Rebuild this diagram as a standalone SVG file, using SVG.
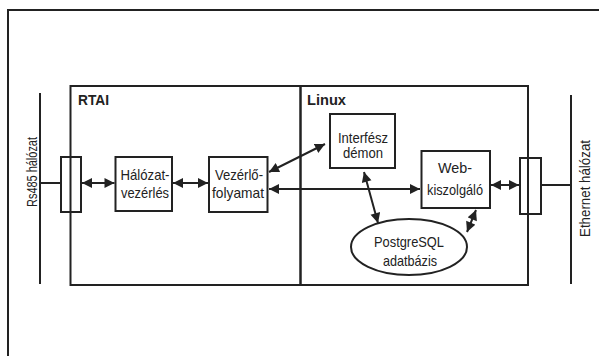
<svg xmlns="http://www.w3.org/2000/svg" width="599" height="356" viewBox="0 0 599 356">
<style>
.bx{fill:#fff;stroke:#222;stroke-width:2}
.cr{fill:none;stroke:#222;stroke-width:2}
.ln{fill:none;stroke:#222;stroke-width:2}
.cn{fill:none;stroke:#222;stroke-width:2}
.t{font-family:"Liberation Sans",Arial,sans-serif;font-size:14.5px;fill:#222;text-anchor:middle}
.h{font-family:"Liberation Sans",Arial,sans-serif;font-size:14.5px;font-weight:bold;fill:#222}
</style>
<defs>
<marker id="ah" viewBox="0 0 10 10" refX="10" refY="5" markerWidth="5.5" markerHeight="5" markerUnits="strokeWidth" orient="auto-start-reverse">
<path d="M0,0 L10,5 L0,10 Z" fill="#222"/>
</marker>
</defs>
<rect width="599" height="356" fill="#fff"/>
<path class="ln" d="M8,356 V10 H599"/>
<g id="rtai"><rect class="cr" x="70.5" y="86" width="230" height="199"/><text class="h" x="78" y="105" textLength="31" lengthAdjust="spacingAndGlyphs">RTAI</text></g>
<g id="linux"><rect class="cr" x="300.5" y="86" width="227.5" height="199"/><text class="h" x="307" y="105" textLength="39" lengthAdjust="spacingAndGlyphs">Linux</text></g>
<g id="rs485"><line class="ln" x1="40" y1="93" x2="40" y2="284"/><line class="ln" x1="40" y1="183" x2="61" y2="183"/><text class="t" transform="translate(36.5,172) rotate(-90)" textLength="70" lengthAdjust="spacingAndGlyphs">Rs485 hálózat</text></g>
<g id="conn-left"><rect class="cr" x="61" y="157" width="20" height="55"/></g>
<g id="halozat"><rect class="bx" x="115.5" y="157" width="56.5" height="54"/><text class="t" x="145" y="180" textLength="49" lengthAdjust="spacingAndGlyphs">Hálózat-</text><text class="t" x="145" y="197.5" textLength="48" lengthAdjust="spacingAndGlyphs">vezérlés</text></g>
<g id="vezerlo"><rect class="bx" x="209" y="157" width="58.5" height="55"/><text class="t" x="239" y="180" textLength="48" lengthAdjust="spacingAndGlyphs">Vezérlő-</text><text class="t" x="238" y="198" textLength="52" lengthAdjust="spacingAndGlyphs">folyamat</text></g>
<g id="interfesz"><rect class="bx" x="330" y="114" width="65" height="54"/><text class="t" x="363" y="143" textLength="50" lengthAdjust="spacingAndGlyphs">Interfész</text><text class="t" x="363" y="158" textLength="40" lengthAdjust="spacingAndGlyphs">démon</text></g>
<g id="web"><rect class="bx" x="421.5" y="151" width="68.5" height="57"/><text class="t" x="455" y="173" textLength="34" lengthAdjust="spacingAndGlyphs">Web-</text><text class="t" x="455" y="195" textLength="56" lengthAdjust="spacingAndGlyphs">kiszolgáló</text></g>
<g id="postgres"><ellipse class="bx" cx="409" cy="247" rx="58" ry="28"/><text class="t" x="409" y="247" textLength="70" lengthAdjust="spacingAndGlyphs">PostgreSQL</text><text class="t" x="410" y="266" textLength="54" lengthAdjust="spacingAndGlyphs">adatbázis</text></g>
<g id="conn-right"><rect class="cr" x="520" y="158" width="21" height="56"/></g>
<g id="ethernet"><line class="ln" x1="571" y1="95" x2="571" y2="284"/><line class="ln" x1="541" y1="185" x2="571" y2="185"/><text class="t" transform="translate(590,188.5) rotate(-90)" textLength="97" lengthAdjust="spacingAndGlyphs">Ethernet hálózat</text></g>
<g id="connectors">
<line class="cn" x1="82" y1="183" x2="114.5" y2="183" marker-start="url(#ah)" marker-end="url(#ah)"/>
<line class="cn" x1="173" y1="183" x2="208" y2="183" marker-start="url(#ah)" marker-end="url(#ah)"/>
<line class="cn" x1="269" y1="172" x2="325" y2="144" marker-start="url(#ah)" marker-end="url(#ah)"/>
<line class="cn" x1="269" y1="189" x2="420" y2="189" marker-start="url(#ah)" marker-end="url(#ah)"/>
<line class="cn" x1="364" y1="172" x2="378" y2="223" marker-start="url(#ah)" marker-end="url(#ah)"/>
<line class="cn" x1="476" y1="210" x2="467" y2="232" marker-start="url(#ah)" marker-end="url(#ah)"/>
<line class="cn" x1="491" y1="185" x2="519" y2="185" marker-start="url(#ah)" marker-end="url(#ah)"/>
</g>
</svg>
